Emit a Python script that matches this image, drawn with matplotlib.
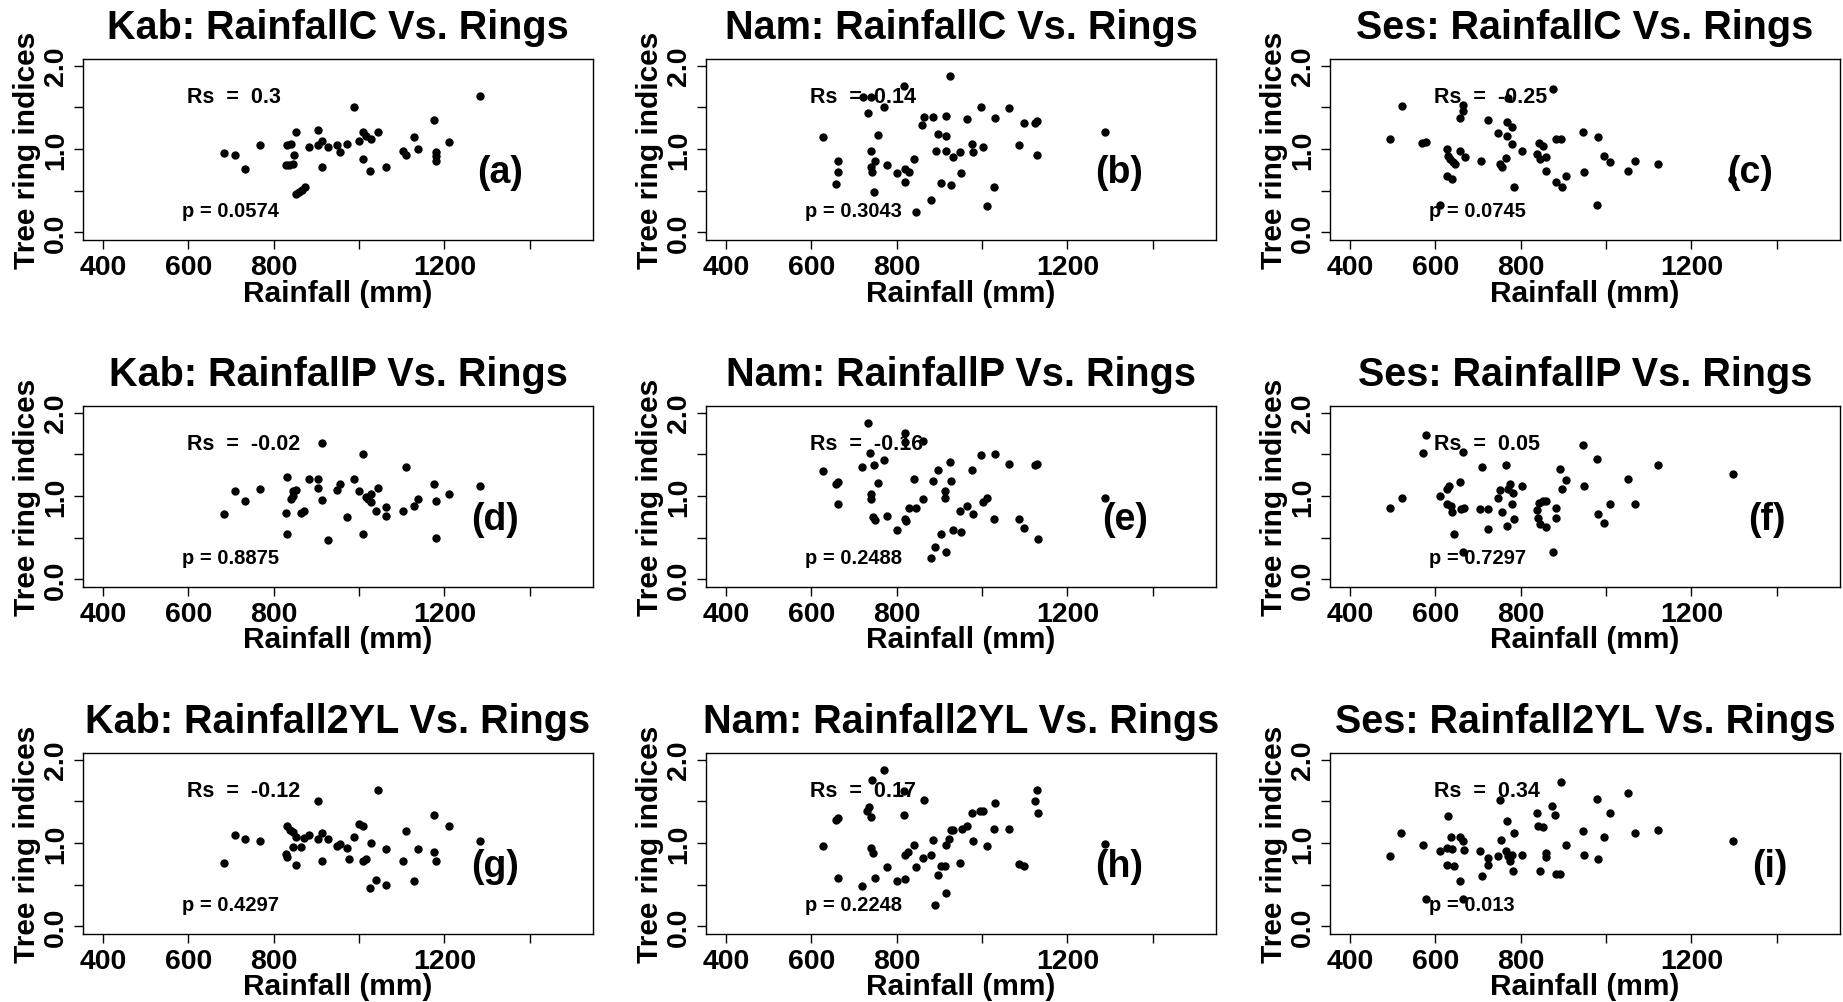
import numpy as np
import matplotlib.pyplot as plt

plt.rcParams['font.family'] = ['Liberation Sans', 'DejaVu Sans']
plt.rcParams['font.weight'] = 'bold'

sites = ['Kab', 'Nam', 'Ses']
rain_types = ['RainfallC', 'RainfallP', 'Rainfall2YL']
tags = ['(a)', '(b)', '(c)', '(d)', '(e)', '(f)', '(g)', '(h)', '(i)']

# row 1: current-year rainfall
kab_c_x = [684, 708, 732, 768, 828, 835, 844, 830, 841, 852, 848, 852, 859, 866, 873, 883,
           903, 903, 913, 913, 927, 947, 956, 972, 989, 1000, 1009, 1015, 1027, 1009, 1026,
           1045, 1063, 1102, 1110, 1129, 1139, 1175, 1180, 1180, 1180, 1210, 1284]
kab_c_y = [0.95, 0.93, 0.76, 1.05, 0.81, 0.81, 0.82, 1.05, 1.06, 1.21, 0.93, 0.46, 0.49, 0.51,
           0.55, 1.02, 1.23, 1.05, 1.10, 0.79, 1.02, 1.05, 0.96, 1.06, 1.50, 1.10, 1.21, 1.16,
           1.12, 0.88, 0.74, 1.21, 0.78, 0.98, 0.93, 1.14, 1.00, 1.35, 0.96, 0.92, 0.86, 1.08, 1.64]
nam_c_x = [627, 657, 663, 663, 721, 733, 739, 740, 739, 743, 747, 750, 757, 771, 777, 800, 817,
           819, 820, 828, 841, 846, 860, 864, 881, 884, 891, 897, 904, 915, 915, 915, 924, 928,
           932, 947, 950, 964, 977, 978, 997, 1001, 1012, 1027, 1031, 1062, 1086, 1098, 1124,
           1129, 1128, 1289]
nam_c_y = [1.15, 0.58, 0.86, 0.72, 1.62, 1.43, 1.63, 0.98, 0.78, 0.72, 0.48, 0.86, 1.17, 1.51,
           0.81, 0.71, 1.76, 0.76, 0.61, 0.72, 0.88, 0.25, 1.29, 1.38, 0.39, 1.38, 0.98, 1.18,
           0.59, 1.40, 1.16, 0.98, 1.88, 0.57, 0.90, 0.96, 0.71, 1.36, 1.06, 0.96, 1.50, 1.02,
           0.32, 0.55, 1.37, 1.49, 1.05, 1.31, 1.31, 1.34, 0.93, 1.21]
ses_c_x = [493, 521, 568, 577, 628, 630, 634, 628, 640, 641, 645, 658, 658, 664, 665, 669, 707,
           724, 747, 751, 755, 765, 768, 768, 771, 780, 780, 785, 804, 838, 842, 846, 852, 859,
           859, 875, 882, 882, 894, 896, 905, 945, 948, 978, 981, 995, 1008, 1052, 1068, 1122,
           611, 1294]
ses_c_y = [1.12, 1.52, 1.07, 1.08, 1.00, 0.92, 0.88, 0.68, 0.64, 0.84, 0.82, 1.37, 0.98, 1.46,
           1.53, 0.90, 0.86, 1.35, 1.19, 0.82, 0.78, 0.89, 1.33, 1.16, 1.61, 1.26, 1.06, 0.55,
           0.98, 0.94, 1.07, 0.88, 1.04, 0.90, 0.74, 1.72, 0.60, 1.12, 1.12, 0.55, 0.68, 1.21,
           0.73, 0.33, 1.14, 0.92, 0.84, 0.74, 0.86, 0.82, 0.33, 0.64]

# row 2: previous-year rainfall
kab_p_x = [684, 708, 732, 768, 828, 832, 832, 841, 846, 846, 852, 864, 871, 883, 903, 903, 913,
           913, 927, 947, 956, 972, 989, 1000, 1009, 1009, 1015, 1020, 1027, 1027, 1040, 1045,
           1063, 1063, 1102, 1110, 1129, 1139, 1175, 1180, 1180, 1210, 1284]
kab_p_y = [0.78, 1.06, 0.94, 1.08, 0.80, 1.23, 0.55, 0.96, 1.00, 1.06, 1.07, 0.80, 0.82, 1.21,
           1.21, 1.10, 1.64, 0.95, 0.47, 1.07, 1.15, 0.75, 1.21, 1.06, 1.50, 0.54, 0.99, 0.97,
           1.02, 0.93, 0.82, 1.10, 0.87, 0.76, 0.82, 1.35, 0.88, 0.96, 1.15, 0.94, 0.50, 1.02, 1.12]
nam_p_x = [627, 657, 663, 663, 719, 733, 737, 740, 740, 744, 750, 746, 757, 769, 777, 800, 819,
           819, 820, 821, 828, 841, 846, 861, 861, 881, 884, 890, 897, 904, 914, 914, 915, 924,
           928, 931, 947, 950, 964, 977, 978, 997, 1001, 1012, 1027, 1031, 1062, 1086, 1098,
           1124, 1129, 1131, 1289]
nam_p_y = [1.30, 1.15, 1.17, 0.90, 1.35, 1.88, 1.52, 1.02, 0.96, 0.75, 0.71, 1.37, 1.16, 1.43,
           0.76, 0.59, 1.76, 1.65, 0.72, 0.70, 0.86, 1.21, 0.86, 1.66, 0.96, 0.26, 1.18, 0.39,
           1.31, 0.55, 1.06, 0.98, 0.33, 1.41, 1.18, 0.59, 0.82, 0.57, 0.88, 1.31, 0.78, 1.49,
           0.93, 0.98, 0.72, 1.51, 1.39, 0.72, 0.62, 1.37, 1.39, 0.48, 0.98]
ses_p_x = [493, 521, 570, 577, 611, 628, 632, 628, 637, 639, 643, 658, 660, 667, 665, 665, 705,
           708, 724, 724, 747, 751, 755, 765, 767, 771, 774, 780, 781, 785, 804, 838, 842, 841,
           846, 852, 859, 859, 875, 882, 882, 891, 896, 905, 945, 948, 978, 981, 995, 1008,
           1052, 1068, 1122, 1297]
ses_p_y = [0.86, 0.98, 1.52, 1.73, 1.00, 1.08, 1.12, 0.90, 0.88, 0.81, 0.55, 1.17, 0.84, 0.86,
           1.53, 0.33, 0.85, 1.35, 0.85, 0.60, 0.98, 1.07, 0.81, 1.37, 0.64, 1.08, 1.15, 0.90,
           1.04, 0.72, 1.12, 0.83, 0.92, 0.74, 0.66, 0.94, 0.94, 0.63, 0.33, 0.86, 0.74, 1.33,
           1.08, 1.19, 1.61, 1.12, 1.45, 0.78, 0.68, 0.90, 1.21, 0.91, 1.37, 1.27]

# row 3: two-year lagged rainfall
kab_2yl_x = [684, 708, 732, 768, 830, 837, 844, 846, 852, 828, 832, 852, 864, 871, 883, 903,
             903, 913, 913, 927, 947, 956, 972, 976, 989, 1000, 1009, 1009, 1017, 1027, 1026,
             1040, 1045, 1063, 1063, 1102, 1110, 1129, 1139, 1175, 1175, 1180, 1210, 1284]
kab_2yl_y = [0.76, 1.10, 1.05, 1.02, 1.21, 1.16, 1.13, 0.95, 1.07, 0.87, 0.83, 0.74, 0.95, 1.06,
             1.10, 1.50, 1.05, 1.12, 0.78, 1.05, 0.97, 0.99, 0.94, 0.81, 1.07, 1.23, 1.21, 0.79,
             0.81, 1.00, 0.46, 0.56, 1.64, 0.93, 0.50, 0.79, 1.14, 0.54, 0.93, 1.34, 0.89, 0.79,
             1.20, 1.02]
nam_2yl_x = [627, 657, 663, 663, 719, 730, 735, 740, 743, 739, 745, 750, 769, 777, 800, 817, 817,
             820, 819, 826, 841, 846, 861, 863, 881, 884, 890, 897, 904, 914, 915, 915, 923, 928,
             932, 947, 952, 964, 977, 978, 995, 1001, 1012, 1027, 1031, 1062, 1086, 1098, 1124,
             1128, 1131, 1289]
nam_2yl_y = [0.96, 1.28, 1.30, 0.58, 0.48, 1.39, 1.43, 1.31, 1.76, 0.94, 0.88, 0.58, 1.88, 0.71,
             0.55, 1.34, 1.62, 0.57, 0.86, 0.89, 0.98, 0.71, 0.82, 1.52, 0.86, 1.04, 0.26, 0.62,
             0.73, 0.73, 0.40, 0.98, 1.05, 1.16, 1.16, 0.76, 1.17, 1.21, 1.36, 1.02, 1.38, 1.38,
             0.97, 1.17, 1.48, 1.17, 0.75, 0.73, 1.50, 1.64, 1.36, 0.99]
ses_2yl_x = [493, 520, 570, 577, 611, 628, 630, 628, 637, 640, 644, 658, 658, 664, 667, 665, 705,
             708, 724, 724, 747, 751, 754, 768, 765, 770, 774, 780, 781, 785, 804, 838, 841, 844,
             852, 859, 859, 874, 881, 882, 891, 895, 905, 945, 948, 978, 981, 995, 1008, 1052,
             1068, 1122, 1297]
ses_2yl_y = [0.85, 1.12, 0.98, 0.33, 0.90, 0.94, 1.32, 0.74, 1.07, 0.93, 0.72, 1.07, 0.55, 1.02,
             0.92, 0.33, 0.90, 0.61, 0.82, 0.74, 0.84, 1.52, 1.04, 1.26, 0.90, 0.85, 0.78, 0.86,
             0.67, 1.12, 0.86, 1.36, 1.21, 0.67, 1.19, 0.88, 0.83, 1.45, 1.34, 0.63, 0.63, 1.73,
             0.98, 1.14, 0.86, 1.53, 0.81, 1.07, 1.36, 1.60, 1.12, 1.16, 1.03]

rs_vals = ['0.3', '0.14', '-0.25', '-0.02', '-0.16', '0.05', '-0.12', '0.17', '0.34']
p_vals = ['0.0574', '0.3043', '0.0745', '0.8875', '0.2488', '0.7297', '0.4297', '0.2248', '0.013']

xs = [kab_c_x, nam_c_x, ses_c_x, kab_p_x, nam_p_x, ses_p_x, kab_2yl_x, nam_2yl_x, ses_2yl_x]
ys = [kab_c_y, nam_c_y, ses_c_y, kab_p_y, nam_p_y, ses_p_y, kab_2yl_y, nam_2yl_y, ses_2yl_y]

W, H = 1843, 1003
fig = plt.figure(figsize=(W / 100, H / 100), dpi=100)

# panel boxes in pixels
col_left = [83, 706, 1330]
row_top = [60, 407, 754]
ax_w, ax_h = 510, 180.5
tag_x = [1331, 1321, 1338, 1319, 1335, 1377, 1319, 1321, 1383]

for i in range(9):
    r, c = divmod(i, 3)
    ax = fig.add_axes([col_left[c] / W, 1 - (row_top[r] + ax_h) / H, ax_w / W, ax_h / H])
    ax.plot(xs[i], ys[i], 'o', color='black', ms=5, mec='black')
    ax.set_xlim(353, 1548)
    ax.set_ylim(-0.085, 2.08)
    ax.set_xticks([400, 600, 800, 1000, 1200, 1400])
    ax.set_xticklabels(['400', '600', '800', '', '1200', ''])
    ax.set_yticks([0, 0.5, 1.0, 1.5, 2.0])
    ax.set_yticklabels(['0.0', '', '1.0', '', '2.0'])
    ax.tick_params(axis='both', labelsize=20.5, length=6.2, width=1.0)
    ax.tick_params(axis='x', pad=4)
    ax.tick_params(axis='y', labelrotation=90, pad=3.7)
    for lab in ax.get_yticklabels():
        lab.set_va('center')
    for sp in ax.spines.values():
        sp.set_linewidth(1.0)

    ax.set_title(f'{sites[c]}: {rain_types[r]} Vs. Rings', fontsize=28.5, fontweight='bold',
                 pad=15)
    ax.text(0.5, -61 / ax_h, 'Rainfall (mm)', transform=ax.transAxes, ha='center',
            va='baseline', fontsize=21.5, fontweight='bold')
    ax.text(-48 / ax_w, 0.5, 'Tree ring indices', transform=ax.transAxes, rotation=90,
            rotation_mode='anchor', ha='center', va='baseline', fontsize=21.5,
            fontweight='bold')

    ax.text(597, 1.63, f'Rs  =  {rs_vals[i]}', ha='left', va='center', fontsize=15.5,
            fontweight='bold')
    ax.text(585, 0.26, f'p = {p_vals[i]}', ha='left', va='center', fontsize=14.5,
            fontweight='bold')
    ax.text(tag_x[i], 0.73, tags[i], ha='center', va='center', fontsize=27, fontweight='bold')

fig.savefig('out.png', dpi=100)
